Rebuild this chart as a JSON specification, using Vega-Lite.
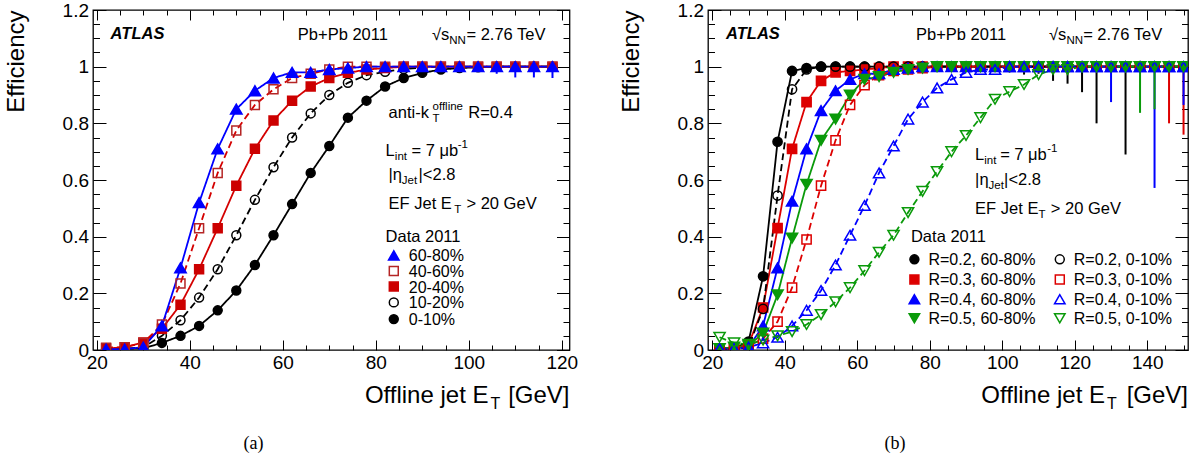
{
"$schema":"https://vega.github.io/schema/vega-lite/v6.json",
"padding":{"left":3,"top":0,"right":0,"bottom":0},
"background":"white",
"config":{"font":"Liberation Sans","view":{"stroke":"black","strokeWidth":1.3},
"axis":{"labelFont":"Liberation Sans","labelFontSize":19,"labelColor":"black","tickColor":"black","tickWidth":1,"domain":false,"grid":false,"titleFont":"Liberation Sans","titleFontSize":24,"titleFontWeight":"normal","titleColor":"black","labelOverlap":false,"labelFlush":false,"labelBound":false}},
"datasets":{
"A":[
{"x":22,"e":0.002,"s":"0-10%"},{"x":26,"e":0.003,"s":"0-10%"},{"x":30,"e":0.006,"s":"0-10%"},{"x":34,"e":0.025,"s":"0-10%"},{"x":38,"e":0.05,"s":"0-10%"},{"x":42,"e":0.085,"s":"0-10%"},{"x":46,"e":0.14,"s":"0-10%"},{"x":50,"e":0.21,"s":"0-10%"},{"x":54,"e":0.3,"s":"0-10%"},{"x":58,"e":0.405,"s":"0-10%"},{"x":62,"e":0.515,"s":"0-10%"},{"x":66,"e":0.625,"s":"0-10%"},{"x":70,"e":0.72,"s":"0-10%"},{"x":74,"e":0.82,"s":"0-10%"},{"x":78,"e":0.88,"s":"0-10%"},{"x":82,"e":0.93,"s":"0-10%"},{"x":86,"e":0.96,"s":"0-10%"},{"x":90,"e":0.978,"s":"0-10%"},{"x":94,"e":0.99,"s":"0-10%"},{"x":98,"e":0.995,"s":"0-10%"},{"x":102,"e":0.998,"s":"0-10%"},{"x":106,"e":1,"s":"0-10%"},{"x":110,"e":1,"s":"0-10%"},{"x":114,"e":1,"s":"0-10%"},{"x":118,"e":1,"s":"0-10%"},
{"x":22,"e":0.004,"s":"10-20%"},{"x":26,"e":0.005,"s":"10-20%"},{"x":30,"e":0.01,"s":"10-20%"},{"x":34,"e":0.05,"s":"10-20%"},{"x":38,"e":0.105,"s":"10-20%"},{"x":42,"e":0.185,"s":"10-20%"},{"x":46,"e":0.285,"s":"10-20%"},{"x":50,"e":0.405,"s":"10-20%"},{"x":54,"e":0.53,"s":"10-20%"},{"x":58,"e":0.645,"s":"10-20%"},{"x":62,"e":0.75,"s":"10-20%"},{"x":66,"e":0.835,"s":"10-20%"},{"x":70,"e":0.9,"s":"10-20%"},{"x":74,"e":0.943,"s":"10-20%"},{"x":78,"e":0.97,"s":"10-20%"},{"x":82,"e":0.982,"s":"10-20%"},{"x":86,"e":0.992,"s":"10-20%"},{"x":90,"e":0.997,"s":"10-20%"},{"x":94,"e":1,"s":"10-20%"},{"x":98,"e":1,"s":"10-20%"},{"x":102,"e":1,"s":"10-20%"},{"x":106,"e":1,"s":"10-20%"},{"x":110,"e":1,"s":"10-20%"},{"x":114,"e":1,"s":"10-20%"},{"x":118,"e":1,"s":"10-20%"},
{"x":22,"e":0.005,"s":"20-40%"},{"x":26,"e":0.01,"s":"20-40%"},{"x":30,"e":0.027,"s":"20-40%"},{"x":34,"e":0.075,"s":"20-40%"},{"x":38,"e":0.16,"s":"20-40%"},{"x":42,"e":0.285,"s":"20-40%"},{"x":46,"e":0.43,"s":"20-40%"},{"x":50,"e":0.58,"s":"20-40%"},{"x":54,"e":0.71,"s":"20-40%"},{"x":58,"e":0.81,"s":"20-40%"},{"x":62,"e":0.88,"s":"20-40%"},{"x":66,"e":0.93,"s":"20-40%"},{"x":70,"e":0.96,"s":"20-40%"},{"x":74,"e":0.978,"s":"20-40%"},{"x":78,"e":0.99,"s":"20-40%"},{"x":82,"e":0.995,"s":"20-40%"},{"x":86,"e":1,"s":"20-40%"},{"x":90,"e":1,"s":"20-40%"},{"x":94,"e":1,"s":"20-40%"},{"x":98,"e":1,"s":"20-40%"},{"x":102,"e":1,"s":"20-40%"},{"x":106,"e":1,"s":"20-40%"},{"x":110,"e":1,"s":"20-40%"},{"x":114,"e":1,"s":"20-40%"},{"x":118,"e":1,"s":"20-40%"},
{"x":22,"e":0.008,"s":"40-60%"},{"x":26,"e":0.01,"s":"40-60%"},{"x":30,"e":0.025,"s":"40-60%"},{"x":34,"e":0.09,"s":"40-60%"},{"x":38,"e":0.235,"s":"40-60%"},{"x":42,"e":0.43,"s":"40-60%"},{"x":46,"e":0.625,"s":"40-60%"},{"x":50,"e":0.775,"s":"40-60%"},{"x":54,"e":0.865,"s":"40-60%"},{"x":58,"e":0.92,"s":"40-60%"},{"x":62,"e":0.96,"s":"40-60%"},{"x":66,"e":0.975,"s":"40-60%"},{"x":70,"e":0.99,"s":"40-60%"},{"x":74,"e":1,"s":"40-60%"},{"x":78,"e":1,"s":"40-60%"},{"x":82,"e":1,"s":"40-60%"},{"x":86,"e":1,"s":"40-60%"},{"x":90,"e":1,"s":"40-60%"},{"x":94,"e":1,"s":"40-60%"},{"x":98,"e":1,"s":"40-60%"},{"x":102,"e":1,"s":"40-60%"},{"x":106,"e":1,"s":"40-60%"},{"x":110,"e":1,"s":"40-60%"},{"x":114,"e":1,"s":"40-60%"},{"x":118,"e":1,"s":"40-60%"},
{"x":22,"e":0.003,"s":"60-80%"},{"x":26,"e":0.003,"s":"60-80%"},{"x":30,"e":0.01,"s":"60-80%"},{"x":34,"e":0.085,"s":"60-80%"},{"x":38,"e":0.29,"s":"60-80%"},{"x":42,"e":0.52,"s":"60-80%"},{"x":46,"e":0.71,"s":"60-80%"},{"x":50,"e":0.85,"s":"60-80%"},{"x":54,"e":0.915,"s":"60-80%"},{"x":58,"e":0.96,"s":"60-80%"},{"x":62,"e":0.98,"s":"60-80%"},{"x":66,"e":0.98,"s":"60-80%"},{"x":70,"e":0.99,"s":"60-80%"},{"x":74,"e":0.995,"s":"60-80%"},{"x":78,"e":1,"s":"60-80%"},{"x":82,"e":1,"s":"60-80%"},{"x":86,"e":1,"s":"60-80%"},{"x":90,"e":1,"s":"60-80%"},{"x":94,"e":1,"s":"60-80%"},{"x":98,"e":1,"s":"60-80%"},{"x":102,"e":1,"s":"60-80%"},{"x":106,"e":1,"s":"60-80%"},{"x":110,"e":1,"s":"60-80%"},{"x":114,"e":1,"s":"60-80%"},{"x":118,"e":1,"s":"60-80%"}
],
"LA":[{"x":83.87,"y":0.334,"s":"60-80%"},{"x":83.87,"y":0.279,"s":"40-60%"},{"x":83.87,"y":0.224,"s":"20-40%"},{"x":83.87,"y":0.168,"s":"10-20%"},{"x":83.87,"y":0.109,"s":"0-10%"}],
"LB":[{"x":75.75,"y":0.32,"s":"R=0.2, 60-80%"},{"x":115.86,"y":0.32,"s":"R=0.2, 0-10%"},{"x":75.75,"y":0.249,"s":"R=0.3, 60-80%"},{"x":115.86,"y":0.249,"s":"R=0.3, 0-10%"},{"x":75.75,"y":0.179,"s":"R=0.4, 60-80%"},{"x":115.86,"y":0.179,"s":"R=0.4, 0-10%"},{"x":75.75,"y":0.112,"s":"R=0.5, 60-80%"},{"x":115.86,"y":0.112,"s":"R=0.5, 0-10%"}],
"B":[
{"x":22,"e":0.005,"s":"R=0.2, 60-80%"},{"x":26,"e":0.005,"s":"R=0.2, 60-80%"},{"x":30,"e":0.03,"s":"R=0.2, 60-80%"},{"x":34,"e":0.26,"s":"R=0.2, 60-80%"},{"x":38,"e":0.735,"s":"R=0.2, 60-80%"},{"x":42,"e":0.985,"s":"R=0.2, 60-80%"},{"x":46,"e":0.995,"s":"R=0.2, 60-80%"},{"x":50,"e":1,"s":"R=0.2, 60-80%"},{"x":54,"e":1,"s":"R=0.2, 60-80%"},{"x":58,"e":1,"s":"R=0.2, 60-80%"},{"x":62,"e":1,"s":"R=0.2, 60-80%"},{"x":66,"e":1,"s":"R=0.2, 60-80%"},{"x":70,"e":1,"s":"R=0.2, 60-80%"},{"x":74,"e":1,"s":"R=0.2, 60-80%"},{"x":78,"e":1,"s":"R=0.2, 60-80%"},{"x":82,"e":1,"s":"R=0.2, 60-80%"},{"x":86,"e":1,"s":"R=0.2, 60-80%"},{"x":90,"e":1,"s":"R=0.2, 60-80%"},{"x":94,"e":1,"s":"R=0.2, 60-80%"},{"x":98,"e":1,"s":"R=0.2, 60-80%"},{"x":102,"e":1,"s":"R=0.2, 60-80%"},{"x":106,"e":1,"s":"R=0.2, 60-80%"},{"x":110,"e":1,"s":"R=0.2, 60-80%"},{"x":114,"e":1,"s":"R=0.2, 60-80%"},{"x":118,"e":1,"s":"R=0.2, 60-80%"},{"x":122,"e":1,"s":"R=0.2, 60-80%"},{"x":126,"e":1,"s":"R=0.2, 60-80%"},{"x":130,"e":1,"s":"R=0.2, 60-80%"},{"x":134,"e":1,"s":"R=0.2, 60-80%"},{"x":138,"e":1,"s":"R=0.2, 60-80%"},{"x":142,"e":1,"s":"R=0.2, 60-80%"},{"x":146,"e":1,"s":"R=0.2, 60-80%"},{"x":150,"e":1,"s":"R=0.2, 60-80%"},
{"x":22,"e":0.005,"s":"R=0.3, 60-80%"},{"x":26,"e":0.005,"s":"R=0.3, 60-80%"},{"x":30,"e":0.02,"s":"R=0.3, 60-80%"},{"x":34,"e":0.15,"s":"R=0.3, 60-80%"},{"x":38,"e":0.43,"s":"R=0.3, 60-80%"},{"x":42,"e":0.71,"s":"R=0.3, 60-80%"},{"x":46,"e":0.875,"s":"R=0.3, 60-80%"},{"x":50,"e":0.95,"s":"R=0.3, 60-80%"},{"x":54,"e":0.98,"s":"R=0.3, 60-80%"},{"x":58,"e":0.985,"s":"R=0.3, 60-80%"},{"x":62,"e":0.99,"s":"R=0.3, 60-80%"},{"x":66,"e":0.995,"s":"R=0.3, 60-80%"},{"x":70,"e":1,"s":"R=0.3, 60-80%"},{"x":74,"e":1,"s":"R=0.3, 60-80%"},{"x":78,"e":1,"s":"R=0.3, 60-80%"},{"x":82,"e":1,"s":"R=0.3, 60-80%"},{"x":86,"e":1,"s":"R=0.3, 60-80%"},{"x":90,"e":1,"s":"R=0.3, 60-80%"},{"x":94,"e":1,"s":"R=0.3, 60-80%"},{"x":98,"e":1,"s":"R=0.3, 60-80%"},{"x":102,"e":1,"s":"R=0.3, 60-80%"},{"x":106,"e":1,"s":"R=0.3, 60-80%"},{"x":110,"e":1,"s":"R=0.3, 60-80%"},{"x":114,"e":1,"s":"R=0.3, 60-80%"},{"x":118,"e":1,"s":"R=0.3, 60-80%"},{"x":122,"e":1,"s":"R=0.3, 60-80%"},{"x":126,"e":1,"s":"R=0.3, 60-80%"},{"x":130,"e":1,"s":"R=0.3, 60-80%"},{"x":134,"e":1,"s":"R=0.3, 60-80%"},{"x":138,"e":1,"s":"R=0.3, 60-80%"},{"x":142,"e":1,"s":"R=0.3, 60-80%"},{"x":146,"e":1,"s":"R=0.3, 60-80%"},{"x":150,"e":1,"s":"R=0.3, 60-80%"},
{"x":22,"e":0.005,"s":"R=0.4, 60-80%"},{"x":26,"e":0.005,"s":"R=0.4, 60-80%"},{"x":30,"e":0.01,"s":"R=0.4, 60-80%"},{"x":34,"e":0.085,"s":"R=0.4, 60-80%"},{"x":38,"e":0.29,"s":"R=0.4, 60-80%"},{"x":42,"e":0.525,"s":"R=0.4, 60-80%"},{"x":46,"e":0.71,"s":"R=0.4, 60-80%"},{"x":50,"e":0.845,"s":"R=0.4, 60-80%"},{"x":54,"e":0.915,"s":"R=0.4, 60-80%"},{"x":58,"e":0.955,"s":"R=0.4, 60-80%"},{"x":62,"e":0.975,"s":"R=0.4, 60-80%"},{"x":66,"e":0.975,"s":"R=0.4, 60-80%"},{"x":70,"e":0.99,"s":"R=0.4, 60-80%"},{"x":74,"e":0.995,"s":"R=0.4, 60-80%"},{"x":78,"e":1,"s":"R=0.4, 60-80%"},{"x":82,"e":1,"s":"R=0.4, 60-80%"},{"x":86,"e":1,"s":"R=0.4, 60-80%"},{"x":90,"e":1,"s":"R=0.4, 60-80%"},{"x":94,"e":1,"s":"R=0.4, 60-80%"},{"x":98,"e":1,"s":"R=0.4, 60-80%"},{"x":102,"e":1,"s":"R=0.4, 60-80%"},{"x":106,"e":1,"s":"R=0.4, 60-80%"},{"x":110,"e":1,"s":"R=0.4, 60-80%"},{"x":114,"e":1,"s":"R=0.4, 60-80%"},{"x":118,"e":1,"s":"R=0.4, 60-80%"},{"x":122,"e":1,"s":"R=0.4, 60-80%"},{"x":126,"e":1,"s":"R=0.4, 60-80%"},{"x":130,"e":1,"s":"R=0.4, 60-80%"},{"x":134,"e":1,"s":"R=0.4, 60-80%"},{"x":138,"e":1,"s":"R=0.4, 60-80%"},{"x":142,"e":1,"s":"R=0.4, 60-80%"},{"x":146,"e":1,"s":"R=0.4, 60-80%"},{"x":150,"e":1,"s":"R=0.4, 60-80%"},
{"x":22,"e":0.005,"s":"R=0.5, 60-80%"},{"x":26,"e":0.01,"s":"R=0.5, 60-80%"},{"x":30,"e":0.015,"s":"R=0.5, 60-80%"},{"x":34,"e":0.06,"s":"R=0.5, 60-80%"},{"x":38,"e":0.195,"s":"R=0.5, 60-80%"},{"x":42,"e":0.395,"s":"R=0.5, 60-80%"},{"x":46,"e":0.585,"s":"R=0.5, 60-80%"},{"x":50,"e":0.74,"s":"R=0.5, 60-80%"},{"x":54,"e":0.815,"s":"R=0.5, 60-80%"},{"x":58,"e":0.9,"s":"R=0.5, 60-80%"},{"x":62,"e":0.955,"s":"R=0.5, 60-80%"},{"x":66,"e":0.965,"s":"R=0.5, 60-80%"},{"x":70,"e":0.98,"s":"R=0.5, 60-80%"},{"x":74,"e":0.99,"s":"R=0.5, 60-80%"},{"x":78,"e":0.995,"s":"R=0.5, 60-80%"},{"x":82,"e":1,"s":"R=0.5, 60-80%"},{"x":86,"e":1,"s":"R=0.5, 60-80%"},{"x":90,"e":1,"s":"R=0.5, 60-80%"},{"x":94,"e":1,"s":"R=0.5, 60-80%"},{"x":98,"e":1,"s":"R=0.5, 60-80%"},{"x":102,"e":1,"s":"R=0.5, 60-80%"},{"x":106,"e":1,"s":"R=0.5, 60-80%"},{"x":110,"e":1,"s":"R=0.5, 60-80%"},{"x":114,"e":1,"s":"R=0.5, 60-80%"},{"x":118,"e":1,"s":"R=0.5, 60-80%"},{"x":122,"e":1,"s":"R=0.5, 60-80%"},{"x":126,"e":1,"s":"R=0.5, 60-80%"},{"x":130,"e":1,"s":"R=0.5, 60-80%"},{"x":134,"e":1,"s":"R=0.5, 60-80%"},{"x":138,"e":1,"s":"R=0.5, 60-80%"},{"x":142,"e":1,"s":"R=0.5, 60-80%"},{"x":146,"e":1,"s":"R=0.5, 60-80%"},{"x":150,"e":1,"s":"R=0.5, 60-80%"},
{"x":22,"e":0.003,"s":"R=0.2, 0-10%"},{"x":26,"e":0.003,"s":"R=0.2, 0-10%"},{"x":30,"e":0.01,"s":"R=0.2, 0-10%"},{"x":34,"e":0.145,"s":"R=0.2, 0-10%"},{"x":38,"e":0.545,"s":"R=0.2, 0-10%"},{"x":42,"e":0.92,"s":"R=0.2, 0-10%"},{"x":46,"e":0.99,"s":"R=0.2, 0-10%"},{"x":50,"e":1,"s":"R=0.2, 0-10%"},{"x":54,"e":1,"s":"R=0.2, 0-10%"},{"x":58,"e":1,"s":"R=0.2, 0-10%"},{"x":62,"e":1,"s":"R=0.2, 0-10%"},{"x":66,"e":1,"s":"R=0.2, 0-10%"},{"x":70,"e":1,"s":"R=0.2, 0-10%"},{"x":74,"e":1,"s":"R=0.2, 0-10%"},{"x":78,"e":1,"s":"R=0.2, 0-10%"},{"x":82,"e":1,"s":"R=0.2, 0-10%"},{"x":86,"e":1,"s":"R=0.2, 0-10%"},{"x":90,"e":1,"s":"R=0.2, 0-10%"},{"x":94,"e":1,"s":"R=0.2, 0-10%"},{"x":98,"e":1,"s":"R=0.2, 0-10%"},{"x":102,"e":1,"s":"R=0.2, 0-10%"},{"x":106,"e":1,"s":"R=0.2, 0-10%"},{"x":110,"e":1,"s":"R=0.2, 0-10%"},{"x":114,"e":1,"s":"R=0.2, 0-10%"},{"x":118,"e":1,"s":"R=0.2, 0-10%"},{"x":122,"e":1,"s":"R=0.2, 0-10%"},{"x":126,"e":1,"s":"R=0.2, 0-10%"},{"x":130,"e":1,"s":"R=0.2, 0-10%"},{"x":134,"e":1,"s":"R=0.2, 0-10%"},{"x":138,"e":1,"s":"R=0.2, 0-10%"},{"x":142,"e":1,"s":"R=0.2, 0-10%"},{"x":146,"e":1,"s":"R=0.2, 0-10%"},{"x":150,"e":1,"s":"R=0.2, 0-10%"},
{"x":22,"e":0.005,"s":"R=0.3, 0-10%"},{"x":26,"e":0.005,"s":"R=0.3, 0-10%"},{"x":30,"e":0.015,"s":"R=0.3, 0-10%"},{"x":34,"e":0.04,"s":"R=0.3, 0-10%"},{"x":38,"e":0.1,"s":"R=0.3, 0-10%"},{"x":42,"e":0.22,"s":"R=0.3, 0-10%"},{"x":46,"e":0.39,"s":"R=0.3, 0-10%"},{"x":50,"e":0.58,"s":"R=0.3, 0-10%"},{"x":54,"e":0.74,"s":"R=0.3, 0-10%"},{"x":58,"e":0.865,"s":"R=0.3, 0-10%"},{"x":62,"e":0.935,"s":"R=0.3, 0-10%"},{"x":66,"e":0.97,"s":"R=0.3, 0-10%"},{"x":70,"e":0.985,"s":"R=0.3, 0-10%"},{"x":74,"e":0.99,"s":"R=0.3, 0-10%"},{"x":78,"e":0.995,"s":"R=0.3, 0-10%"},{"x":82,"e":1,"s":"R=0.3, 0-10%"},{"x":86,"e":1,"s":"R=0.3, 0-10%"},{"x":90,"e":1,"s":"R=0.3, 0-10%"},{"x":94,"e":1,"s":"R=0.3, 0-10%"},{"x":98,"e":1,"s":"R=0.3, 0-10%"},{"x":102,"e":1,"s":"R=0.3, 0-10%"},{"x":106,"e":1,"s":"R=0.3, 0-10%"},{"x":110,"e":1,"s":"R=0.3, 0-10%"},{"x":114,"e":1,"s":"R=0.3, 0-10%"},{"x":118,"e":1,"s":"R=0.3, 0-10%"},{"x":122,"e":1,"s":"R=0.3, 0-10%"},{"x":126,"e":1,"s":"R=0.3, 0-10%"},{"x":130,"e":1,"s":"R=0.3, 0-10%"},{"x":134,"e":1,"s":"R=0.3, 0-10%"},{"x":138,"e":1,"s":"R=0.3, 0-10%"},{"x":142,"e":1,"s":"R=0.3, 0-10%"},{"x":146,"e":1,"s":"R=0.3, 0-10%"},{"x":150,"e":1,"s":"R=0.3, 0-10%"},
{"x":22,"e":0.005,"s":"R=0.4, 0-10%"},{"x":26,"e":0.005,"s":"R=0.4, 0-10%"},{"x":30,"e":0.01,"s":"R=0.4, 0-10%"},{"x":34,"e":0.025,"s":"R=0.4, 0-10%"},{"x":38,"e":0.045,"s":"R=0.4, 0-10%"},{"x":42,"e":0.085,"s":"R=0.4, 0-10%"},{"x":46,"e":0.14,"s":"R=0.4, 0-10%"},{"x":50,"e":0.21,"s":"R=0.4, 0-10%"},{"x":54,"e":0.3,"s":"R=0.4, 0-10%"},{"x":58,"e":0.405,"s":"R=0.4, 0-10%"},{"x":62,"e":0.51,"s":"R=0.4, 0-10%"},{"x":66,"e":0.625,"s":"R=0.4, 0-10%"},{"x":70,"e":0.72,"s":"R=0.4, 0-10%"},{"x":74,"e":0.815,"s":"R=0.4, 0-10%"},{"x":78,"e":0.875,"s":"R=0.4, 0-10%"},{"x":82,"e":0.925,"s":"R=0.4, 0-10%"},{"x":86,"e":0.955,"s":"R=0.4, 0-10%"},{"x":90,"e":0.98,"s":"R=0.4, 0-10%"},{"x":94,"e":0.99,"s":"R=0.4, 0-10%"},{"x":98,"e":0.99,"s":"R=0.4, 0-10%"},{"x":102,"e":1,"s":"R=0.4, 0-10%"},{"x":106,"e":1,"s":"R=0.4, 0-10%"},{"x":110,"e":1,"s":"R=0.4, 0-10%"},{"x":114,"e":1,"s":"R=0.4, 0-10%"},{"x":118,"e":1,"s":"R=0.4, 0-10%"},{"x":122,"e":1,"s":"R=0.4, 0-10%"},{"x":126,"e":1,"s":"R=0.4, 0-10%"},{"x":130,"e":1,"s":"R=0.4, 0-10%"},{"x":134,"e":1,"s":"R=0.4, 0-10%"},{"x":138,"e":1,"s":"R=0.4, 0-10%"},{"x":142,"e":1,"s":"R=0.4, 0-10%"},{"x":146,"e":1,"s":"R=0.4, 0-10%"},{"x":150,"e":1,"s":"R=0.4, 0-10%"},
{"x":22,"e":0.045,"s":"R=0.5, 0-10%"},{"x":26,"e":0.025,"s":"R=0.5, 0-10%"},{"x":30,"e":0.02,"s":"R=0.5, 0-10%"},{"x":34,"e":0.035,"s":"R=0.5, 0-10%"},{"x":38,"e":0.05,"s":"R=0.5, 0-10%"},{"x":42,"e":0.065,"s":"R=0.5, 0-10%"},{"x":46,"e":0.09,"s":"R=0.5, 0-10%"},{"x":50,"e":0.125,"s":"R=0.5, 0-10%"},{"x":54,"e":0.17,"s":"R=0.5, 0-10%"},{"x":58,"e":0.22,"s":"R=0.5, 0-10%"},{"x":62,"e":0.28,"s":"R=0.5, 0-10%"},{"x":66,"e":0.345,"s":"R=0.5, 0-10%"},{"x":70,"e":0.405,"s":"R=0.5, 0-10%"},{"x":74,"e":0.485,"s":"R=0.5, 0-10%"},{"x":78,"e":0.56,"s":"R=0.5, 0-10%"},{"x":82,"e":0.63,"s":"R=0.5, 0-10%"},{"x":86,"e":0.7,"s":"R=0.5, 0-10%"},{"x":90,"e":0.757,"s":"R=0.5, 0-10%"},{"x":94,"e":0.82,"s":"R=0.5, 0-10%"},{"x":98,"e":0.885,"s":"R=0.5, 0-10%"},{"x":102,"e":0.912,"s":"R=0.5, 0-10%"},{"x":106,"e":0.937,"s":"R=0.5, 0-10%"},{"x":110,"e":0.972,"s":"R=0.5, 0-10%"},{"x":114,"e":0.99,"s":"R=0.5, 0-10%"},{"x":118,"e":0.99,"s":"R=0.5, 0-10%"},{"x":122,"e":1,"s":"R=0.5, 0-10%"},{"x":126,"e":1,"s":"R=0.5, 0-10%"},{"x":130,"e":1,"s":"R=0.5, 0-10%"},{"x":134,"e":1,"s":"R=0.5, 0-10%"},{"x":138,"e":1,"s":"R=0.5, 0-10%"},{"x":142,"e":1,"s":"R=0.5, 0-10%"},{"x":146,"e":1,"s":"R=0.5, 0-10%"},{"x":150,"e":1,"s":"R=0.5, 0-10%"}
]
},
"spacing":39,
"resolve":{"scale":{"color":"independent","stroke":"independent","fill":"independent","shape":"independent","strokeDash":"independent"}},
"hconcat":[
{
"width":476.5,"height":340,
"resolve":{"axis":{"x":"independent","y":"independent"}},
"layer":[
{"data":{"values":[{"x":102,"lo":0.985,"hi":1},{"x":106,"lo":0.975,"hi":1},{"x":110,"lo":0.962,"hi":1.003},{"x":114,"lo":0.962,"hi":1.003},{"x":118,"lo":0.96,"hi":1.003}]},
"mark":{"type":"rule","color":"#0000ff","strokeWidth":2},
"encoding":{"x":{"field":"x","type":"quantitative","scale":{"domain":[19.18,121.66],"nice":false,"zero":false},"axis":null},"y":{"field":"lo","type":"quantitative","scale":{"domain":[0,1.2],"nice":false,"zero":false},"axis":null},"y2":{"field":"hi"}}},
{"data":{"name":"A"},"mark":{"type":"line","strokeWidth":1.8,"clip":true},
"encoding":{"x":{"field":"x","type":"quantitative","scale":{"domain":[19.18,121.66],"nice":false,"zero":false},
"axis":{"orient":"bottom","values":[20,25,30,35,40,45,50,55,60,65,70,75,80,85,90,95,100,105,110,115,120],"labelExpr":"datum.value % 20 === 0 ? format(datum.value,'d') : ''","tickSize":{"condition":{"test":"datum.value % 20 === 0","value":-10},"value":-5},"labelPadding":13,"title":null}},
"y":{"field":"e","type":"quantitative","scale":{"domain":[0,1.2],"nice":false,"zero":false},
"axis":{"orient":"left","values":[0,0.05,0.1,0.15,0.2,0.25,0.3,0.35,0.4,0.45,0.5,0.55,0.6,0.65,0.7,0.75,0.8,0.85,0.9,0.95,1,1.05,1.1,1.15,1.2],"labelExpr":"abs(datum.value*5-round(datum.value*5))<0.001 ? format(datum.value,'.1~f') : ''","tickSize":{"condition":{"test":"abs(datum.value*5-round(datum.value*5))<0.001","value":-13},"value":-6.5},"labelPadding":17.5,"title":"Efficiency","titleAnchor":"end","titlePadding":34}},
"color":{"field":"s","type":"nominal","scale":{"domain":["60-80%","40-60%","20-40%","10-20%","0-10%"],"range":["#0000ff","#d40000","#d40000","#000000","#000000"]},"legend":null},
"strokeDash":{"field":"s","type":"nominal","scale":{"domain":["60-80%","40-60%","20-40%","10-20%","0-10%"],"range":[[1,0],[7,4],[1,0],[7,4],[1,0]]},"legend":null}}},
{"data":{"name":"A"},"transform":[{"filter":{"field":"s","oneOf":["40-60%","20-40%","10-20%","0-10%"]}}],
"mark":{"type":"point","size":80,"strokeWidth":1.5,"opacity":1,"clip":true},
"encoding":{"x":{"field":"x","type":"quantitative","scale":{"domain":[19.18,121.66],"nice":false,"zero":false},"axis":null},"y":{"field":"e","type":"quantitative","scale":{"domain":[0,1.2],"nice":false,"zero":false},"axis":null},
"shape":{"field":"s","type":"nominal","scale":{"domain":["60-80%","40-60%","20-40%","10-20%","0-10%"],"range":["triangle-up","square","square","circle","circle"]},"legend":null},
"stroke":{"field":"s","type":"nominal","scale":{"domain":["60-80%","40-60%","20-40%","10-20%","0-10%"],"range":["#0000ff","#b52525","#cc0000","#000000","#000000"]},"legend":null},
"fill":{"field":"s","type":"nominal","scale":{"domain":["60-80%","40-60%","20-40%","10-20%","0-10%"],"range":["#0000ff","transparent","#cc0000","transparent","#000000"]},"legend":null}}},
{"data":{"name":"A"},"transform":[{"filter":{"field":"s","equal":"60-80%"}}],
"mark":{"type":"point","size":130,"strokeWidth":1.5,"opacity":1,"clip":true},
"encoding":{"x":{"field":"x","type":"quantitative","scale":{"domain":[19.18,121.66],"nice":false,"zero":false},"axis":null},"y":{"field":"e","type":"quantitative","scale":{"domain":[0,1.2],"nice":false,"zero":false},"axis":null},
"shape":{"field":"s","type":"nominal","legend":null},"stroke":{"field":"s","type":"nominal","legend":null},"fill":{"field":"s","type":"nominal","legend":null}}},
{"data":{"name":"LA"},"transform":[{"filter":{"field":"s","oneOf":["40-60%","20-40%","10-20%","0-10%"]}}],
"mark":{"type":"point","size":80,"strokeWidth":1.5,"opacity":1},
"encoding":{"x":{"field":"x","type":"quantitative","scale":{"domain":[19.18,121.66],"nice":false,"zero":false},"axis":null},"y":{"field":"y","type":"quantitative","scale":{"domain":[0,1.2],"nice":false,"zero":false},"axis":null},
"shape":{"field":"s","type":"nominal","legend":null},"stroke":{"field":"s","type":"nominal","legend":null},"fill":{"field":"s","type":"nominal","legend":null}}},
{"data":{"name":"LA"},"transform":[{"filter":{"field":"s","equal":"60-80%"}}],
"mark":{"type":"point","size":110,"strokeWidth":1.5,"opacity":1},
"encoding":{"x":{"field":"x","type":"quantitative","scale":{"domain":[19.18,121.66],"nice":false,"zero":false},"axis":null},"y":{"field":"y","type":"quantitative","scale":{"domain":[0,1.2],"nice":false,"zero":false},"axis":null},
"shape":{"field":"s","type":"nominal","legend":null},"stroke":{"field":"s","type":"nominal","legend":null},"fill":{"field":"s","type":"nominal","legend":null}}},
{"data":{"name":"LA"},
"mark":{"type":"text","align":"left","baseline":"middle","fontSize":16,"dx":15,"dy":1,"color":"black"},
"encoding":{"x":{"field":"x","type":"quantitative","scale":{"domain":[19.18,121.66],"nice":false,"zero":false},"axis":null},"y":{"field":"y","type":"quantitative","scale":{"domain":[0,1.2],"nice":false,"zero":false},"axis":null},"text":{"field":"s"}}},
{"data":{"name":"A"},"mark":{"type":"point","opacity":0},
"encoding":{"x":{"field":"x","type":"quantitative","scale":{"domain":[19.18,121.66],"nice":false,"zero":false},
"axis":{"orient":"top","values":[20,25,30,35,40,45,50,55,60,65,70,75,80,85,90,95,100,105,110,115,120],"labels":false,"tickSize":{"condition":{"test":"datum.value % 20 === 0","value":-10},"value":-5},"title":null}},
"y":{"field":"e","type":"quantitative","scale":{"domain":[0,1.2],"nice":false,"zero":false},
"axis":{"orient":"right","values":[0,0.05,0.1,0.15,0.2,0.25,0.3,0.35,0.4,0.45,0.5,0.55,0.6,0.65,0.7,0.75,0.8,0.85,0.9,0.95,1,1.05,1.1,1.15,1.2],"labels":false,"tickSize":{"condition":{"test":"abs(datum.value*5-round(datum.value*5))<0.001","value":-13},"value":-6.5},"title":null}}}},
{"data":{"values":[{"x":104.24,"y":-0.187,"t":"Offline jet E"},{"x":121.66,"y":-0.187,"t":"[GeV]"}]},
"mark":{"type":"text","align":"right","baseline":"alphabetic","fontSize":24,"color":"black"},
"encoding":{"x":{"field":"x","type":"quantitative","scale":{"domain":[19.18,121.66],"nice":false,"zero":false},"axis":null},"y":{"field":"y","type":"quantitative","scale":{"domain":[0,1.2],"nice":false,"zero":false},"axis":null},"text":{"field":"t"}}},
{"data":{"values":[{"x":104.67,"y":-0.187,"t":"T"}]},
"mark":{"type":"text","align":"left","baseline":"alphabetic","fontSize":16,"dy":6,"color":"black"},
"encoding":{"x":{"field":"x","type":"quantitative","scale":{"domain":[19.18,121.66],"nice":false,"zero":false},"axis":null},"y":{"field":"y","type":"quantitative","scale":{"domain":[0,1.2],"nice":false,"zero":false},"axis":null},"text":{"field":"t"}}},
{"data":{"values":[{"x":63.23,"y":1.093,"t":"Pb+Pb 2011"},{"x":92.1,"y":1.093,"t":"√s"},{"x":99.5,"y":1.093,"t":"= 2.76 TeV"},{"x":82.75,"y":0.818,"t":"anti-k"},{"x":99.9,"y":0.818,"t":"R=0.4"},{"x":82.1,"y":0.684,"t":"L"},{"x":87.7,"y":0.684,"t":"= 7 μb"},{"x":82.75,"y":0.6,"t":"|η"},{"x":89.2,"y":0.6,"t":"|<2.8"},{"x":82.75,"y":0.499,"t":"EF Jet E"},{"x":99.5,"y":0.499,"t":"> 20 GeV"},{"x":82.1,"y":0.381,"t":"Data 2011"}]},
"mark":{"type":"text","align":"left","baseline":"alphabetic","fontSize":16.5,"color":"black"},
"encoding":{"x":{"field":"x","type":"quantitative","scale":{"domain":[19.18,121.66],"nice":false,"zero":false},"axis":null},"y":{"field":"y","type":"quantitative","scale":{"domain":[0,1.2],"nice":false,"zero":false},"axis":null},"text":{"field":"t"}}},
{"data":{"values":[{"x":95.8,"y":1.093,"t":"NN"},{"x":92.2,"y":0.818,"t":"T"},{"x":84.1,"y":0.684,"t":"int"},{"x":85.6,"y":0.6,"t":"Jet"},{"x":96.9,"y":0.499,"t":"T"}]},
"mark":{"type":"text","align":"left","baseline":"alphabetic","fontSize":11.5,"dy":4,"color":"black"},
"encoding":{"x":{"field":"x","type":"quantitative","scale":{"domain":[19.18,121.66],"nice":false,"zero":false},"axis":null},"y":{"field":"y","type":"quantitative","scale":{"domain":[0,1.2],"nice":false,"zero":false},"axis":null},"text":{"field":"t"}}},
{"data":{"values":[{"x":92.2,"y":0.818,"t":"offline"},{"x":97.6,"y":0.684,"t":"-1"}]},
"mark":{"type":"text","align":"left","baseline":"alphabetic","fontSize":11.5,"dy":-8,"color":"black"},
"encoding":{"x":{"field":"x","type":"quantitative","scale":{"domain":[19.18,121.66],"nice":false,"zero":false},"axis":null},"y":{"field":"y","type":"quantitative","scale":{"domain":[0,1.2],"nice":false,"zero":false},"axis":null},"text":{"field":"t"}}},
{"data":{"values":[{"x":22.97,"y":1.096,"t":"ATLAS"}]},
"mark":{"type":"text","align":"left","baseline":"alphabetic","fontSize":16.5,"fontWeight":"bold","fontStyle":"italic","color":"black"},
"encoding":{"x":{"field":"x","type":"quantitative","scale":{"domain":[19.18,121.66],"nice":false,"zero":false},"axis":null},"y":{"field":"y","type":"quantitative","scale":{"domain":[0,1.2],"nice":false,"zero":false},"axis":null},"text":{"field":"t"}}},
{"data":{"values":[{"x":53.7,"y":-0.349,"t":"(a)"}]},
"mark":{"type":"text","align":"center","baseline":"alphabetic","fontSize":18,"font":"Liberation Serif","color":"black"},
"encoding":{"x":{"field":"x","type":"quantitative","scale":{"domain":[19.18,121.66],"nice":false,"zero":false},"axis":null},"y":{"field":"y","type":"quantitative","scale":{"domain":[0,1.2],"nice":false,"zero":false},"axis":null},"text":{"field":"t"}}}
]
},
{
"width":480,"height":340,
"resolve":{"axis":{"x":"independent","y":"independent"}},
"layer":[
{"data":{"values":[{"x":98,"lo":0.99,"hi":1,"s":"R=0.2, 60-80%"},{"x":102,"lo":0.98,"hi":1,"s":"R=0.2, 60-80%"},{"x":106,"lo":0.972,"hi":1,"s":"R=0.2, 60-80%"},{"x":110,"lo":0.975,"hi":1,"s":"R=0.2, 60-80%"},{"x":114,"lo":0.95,"hi":1,"s":"R=0.2, 60-80%"},{"x":118,"lo":0.94,"hi":1,"s":"R=0.2, 60-80%"},{"x":122,"lo":0.91,"hi":1,"s":"R=0.2, 60-80%"},{"x":126,"lo":0.8,"hi":1,"s":"R=0.2, 60-80%"},{"x":130,"lo":0.875,"hi":1,"s":"R=0.4, 60-80%"},{"x":134,"lo":0.69,"hi":1,"s":"R=0.2, 60-80%"},{"x":138,"lo":0.837,"hi":1,"s":"R=0.5, 60-80%"},{"x":142,"lo":0.572,"hi":1,"s":"R=0.4, 60-80%"},{"x":142,"lo":0.85,"hi":1,"s":"R=0.5, 60-80%"},{"x":146,"lo":0.8,"hi":1,"s":"R=0.3, 60-80%"},{"x":150,"lo":0.76,"hi":1,"s":"R=0.3, 60-80%"},{"x":150,"lo":0.865,"hi":1,"s":"R=0.4, 60-80%"}]},
"mark":{"type":"rule","strokeWidth":2},
"encoding":{"x":{"field":"x","type":"quantitative","scale":{"domain":[18.81,151.23],"nice":false,"zero":false},"axis":null},"y":{"field":"lo","type":"quantitative","scale":{"domain":[0,1.2],"nice":false,"zero":false},"axis":null},"y2":{"field":"hi"},
"color":{"field":"s","type":"nominal","scale":{"domain":["R=0.2, 60-80%","R=0.2, 0-10%","R=0.3, 60-80%","R=0.3, 0-10%","R=0.4, 60-80%","R=0.4, 0-10%","R=0.5, 60-80%","R=0.5, 0-10%"],"range":["#000000","#000000","#dd0000","#dd0000","#0000ff","#0000ff","#0a9a0a","#0a9a0a"]},"legend":null}}},
{"data":{"name":"B"},"mark":{"type":"line","strokeWidth":1.8,"clip":true},
"encoding":{"x":{"field":"x","type":"quantitative","scale":{"domain":[18.81,151.23],"nice":false,"zero":false},
"axis":{"orient":"bottom","values":[20,25,30,35,40,45,50,55,60,65,70,75,80,85,90,95,100,105,110,115,120,125,130,135,140,145,150],"labelExpr":"datum.value % 20 === 0 ? format(datum.value,'d') : ''","tickSize":{"condition":{"test":"datum.value % 20 === 0","value":-10},"value":-5},"labelPadding":13,"title":null}},
"y":{"field":"e","type":"quantitative","scale":{"domain":[0,1.2],"nice":false,"zero":false},
"axis":{"orient":"left","values":[0,0.05,0.1,0.15,0.2,0.25,0.3,0.35,0.4,0.45,0.5,0.55,0.6,0.65,0.7,0.75,0.8,0.85,0.9,0.95,1,1.05,1.1,1.15,1.2],"labelExpr":"abs(datum.value*5-round(datum.value*5))<0.001 ? format(datum.value,'.1~f') : ''","tickSize":{"condition":{"test":"abs(datum.value*5-round(datum.value*5))<0.001","value":-13},"value":-6.5},"labelPadding":17.5,"title":"Efficiency","titleAnchor":"end","titlePadding":34}},
"color":{"field":"s","type":"nominal","legend":null},
"strokeDash":{"field":"s","type":"nominal","scale":{"domain":["R=0.2, 60-80%","R=0.2, 0-10%","R=0.3, 60-80%","R=0.3, 0-10%","R=0.4, 60-80%","R=0.4, 0-10%","R=0.5, 60-80%","R=0.5, 0-10%"],"range":[[1,0],[7,4],[1,0],[7,4],[1,0],[7,4],[1,0],[7,4]]},"legend":null}}},
{"data":{"name":"B"},"transform":[{"filter":{"field":"s","oneOf":["R=0.2, 60-80%","R=0.2, 0-10%","R=0.3, 60-80%","R=0.3, 0-10%"]}}],
"mark":{"type":"point","size":85,"strokeWidth":1.5,"opacity":1,"clip":true},
"encoding":{"x":{"field":"x","type":"quantitative","scale":{"domain":[18.81,151.23],"nice":false,"zero":false},"axis":null},"y":{"field":"e","type":"quantitative","scale":{"domain":[0,1.2],"nice":false,"zero":false},"axis":null},
"shape":{"field":"s","type":"nominal","scale":{"domain":["R=0.2, 60-80%","R=0.2, 0-10%","R=0.3, 60-80%","R=0.3, 0-10%","R=0.4, 60-80%","R=0.4, 0-10%","R=0.5, 60-80%","R=0.5, 0-10%"],"range":["circle","circle","square","square","triangle-up","triangle-up","triangle-down","triangle-down"]},"legend":null},
"stroke":{"field":"s","type":"nominal","scale":{"domain":["R=0.2, 60-80%","R=0.2, 0-10%","R=0.3, 60-80%","R=0.3, 0-10%","R=0.4, 60-80%","R=0.4, 0-10%","R=0.5, 60-80%","R=0.5, 0-10%"],"range":["#000000","#000000","#dd0000","#dd0000","#0000ff","#0000ff","#0a9a0a","#0a9a0a"]},"legend":null},
"fill":{"field":"s","type":"nominal","scale":{"domain":["R=0.2, 60-80%","R=0.2, 0-10%","R=0.3, 60-80%","R=0.3, 0-10%","R=0.4, 60-80%","R=0.4, 0-10%","R=0.5, 60-80%","R=0.5, 0-10%"],"range":["#000000","transparent","#dd0000","transparent","#0000ff","transparent","#0a9a0a","transparent"]},"legend":null}}},
{"data":{"name":"B"},"transform":[{"filter":{"field":"s","oneOf":["R=0.4, 60-80%","R=0.4, 0-10%","R=0.5, 60-80%","R=0.5, 0-10%"]}}],
"mark":{"type":"point","size":125,"strokeWidth":1.5,"opacity":1,"clip":true},
"encoding":{"x":{"field":"x","type":"quantitative","scale":{"domain":[18.81,151.23],"nice":false,"zero":false},"axis":null},"y":{"field":"e","type":"quantitative","scale":{"domain":[0,1.2],"nice":false,"zero":false},"axis":null},
"shape":{"field":"s","type":"nominal","legend":null},"stroke":{"field":"s","type":"nominal","legend":null},"fill":{"field":"s","type":"nominal","legend":null}}},
{"data":{"name":"LB"},"transform":[{"filter":{"field":"s","oneOf":["R=0.2, 60-80%","R=0.2, 0-10%","R=0.3, 60-80%","R=0.3, 0-10%"]}}],
"mark":{"type":"point","size":80,"strokeWidth":1.5,"opacity":1},
"encoding":{"x":{"field":"x","type":"quantitative","scale":{"domain":[18.81,151.23],"nice":false,"zero":false},"axis":null},"y":{"field":"y","type":"quantitative","scale":{"domain":[0,1.2],"nice":false,"zero":false},"axis":null},
"shape":{"field":"s","type":"nominal","legend":null},"stroke":{"field":"s","type":"nominal","legend":null},"fill":{"field":"s","type":"nominal","legend":null}}},
{"data":{"name":"LB"},"transform":[{"filter":{"field":"s","oneOf":["R=0.4, 60-80%","R=0.4, 0-10%","R=0.5, 60-80%","R=0.5, 0-10%"]}}],
"mark":{"type":"point","size":110,"strokeWidth":1.5,"opacity":1},
"encoding":{"x":{"field":"x","type":"quantitative","scale":{"domain":[18.81,151.23],"nice":false,"zero":false},"axis":null},"y":{"field":"y","type":"quantitative","scale":{"domain":[0,1.2],"nice":false,"zero":false},"axis":null},
"shape":{"field":"s","type":"nominal","legend":null},"stroke":{"field":"s","type":"nominal","legend":null},"fill":{"field":"s","type":"nominal","legend":null}}},
{"data":{"name":"LB"},
"mark":{"type":"text","align":"left","baseline":"middle","fontSize":16,"dx":14,"dy":1,"color":"black"},
"encoding":{"x":{"field":"x","type":"quantitative","scale":{"domain":[18.81,151.23],"nice":false,"zero":false},"axis":null},"y":{"field":"y","type":"quantitative","scale":{"domain":[0,1.2],"nice":false,"zero":false},"axis":null},"text":{"field":"s"}}},
{"data":{"name":"B"},"mark":{"type":"point","opacity":0},
"encoding":{"x":{"field":"x","type":"quantitative","scale":{"domain":[18.81,151.23],"nice":false,"zero":false},
"axis":{"orient":"top","values":[20,25,30,35,40,45,50,55,60,65,70,75,80,85,90,95,100,105,110,115,120,125,130,135,140,145,150],"labels":false,"tickSize":{"condition":{"test":"datum.value % 20 === 0","value":-10},"value":-5},"title":null}},
"y":{"field":"e","type":"quantitative","scale":{"domain":[0,1.2],"nice":false,"zero":false},
"axis":{"orient":"right","values":[0,0.05,0.1,0.15,0.2,0.25,0.3,0.35,0.4,0.45,0.5,0.55,0.6,0.65,0.7,0.75,0.8,0.85,0.9,0.95,1,1.05,1.1,1.15,1.2],"labels":false,"tickSize":{"condition":{"test":"abs(datum.value*5-round(datum.value*5))<0.001","value":-13},"value":-6.5},"title":null}}}},
{"data":{"values":[{"x":128.33,"y":-0.187,"t":"Offline jet E"},{"x":151.23,"y":-0.187,"t":"[GeV]"}]},
"mark":{"type":"text","align":"right","baseline":"alphabetic","fontSize":24,"color":"black"},
"encoding":{"x":{"field":"x","type":"quantitative","scale":{"domain":[18.81,151.23],"nice":false,"zero":false},"axis":null},"y":{"field":"y","type":"quantitative","scale":{"domain":[0,1.2],"nice":false,"zero":false},"axis":null},"text":{"field":"t"}}},
{"data":{"values":[{"x":128.9,"y":-0.187,"t":"T"}]},
"mark":{"type":"text","align":"left","baseline":"alphabetic","fontSize":16,"dy":6,"color":"black"},
"encoding":{"x":{"field":"x","type":"quantitative","scale":{"domain":[18.81,151.23],"nice":false,"zero":false},"axis":null},"y":{"field":"y","type":"quantitative","scale":{"domain":[0,1.2],"nice":false,"zero":false},"axis":null},"text":{"field":"t"}}},
{"data":{"values":[{"x":76.2,"y":1.093,"t":"Pb+Pb 2011"},{"x":112.9,"y":1.093,"t":"√s"},{"x":122.3,"y":1.093,"t":"= 2.76 TeV"},{"x":92.5,"y":0.671,"t":"L"},{"x":99.4,"y":0.671,"t":"= 7 μb"},{"x":92.5,"y":0.581,"t":"|η"},{"x":100.5,"y":0.581,"t":"|<2.8"},{"x":92.5,"y":0.481,"t":"EF Jet E"},{"x":113.4,"y":0.481,"t":"> 20 GeV"},{"x":74.8,"y":0.381,"t":"Data 2011"}]},
"mark":{"type":"text","align":"left","baseline":"alphabetic","fontSize":16.5,"color":"black"},
"encoding":{"x":{"field":"x","type":"quantitative","scale":{"domain":[18.81,151.23],"nice":false,"zero":false},"axis":null},"y":{"field":"y","type":"quantitative","scale":{"domain":[0,1.2],"nice":false,"zero":false},"axis":null},"text":{"field":"t"}}},
{"data":{"values":[{"x":117.7,"y":1.093,"t":"NN"},{"x":95.0,"y":0.671,"t":"int"},{"x":96.2,"y":0.581,"t":"Jet"},{"x":110.0,"y":0.481,"t":"T"}]},
"mark":{"type":"text","align":"left","baseline":"alphabetic","fontSize":11.5,"dy":4,"color":"black"},
"encoding":{"x":{"field":"x","type":"quantitative","scale":{"domain":[18.81,151.23],"nice":false,"zero":false},"axis":null},"y":{"field":"y","type":"quantitative","scale":{"domain":[0,1.2],"nice":false,"zero":false},"axis":null},"text":{"field":"t"}}},
{"data":{"values":[{"x":112.4,"y":0.671,"t":"-1"}]},
"mark":{"type":"text","align":"left","baseline":"alphabetic","fontSize":11.5,"dy":-8,"color":"black"},
"encoding":{"x":{"field":"x","type":"quantitative","scale":{"domain":[18.81,151.23],"nice":false,"zero":false},"axis":null},"y":{"field":"y","type":"quantitative","scale":{"domain":[0,1.2],"nice":false,"zero":false},"axis":null},"text":{"field":"t"}}},
{"data":{"values":[{"x":23.8,"y":1.096,"t":"ATLAS"}]},
"mark":{"type":"text","align":"left","baseline":"alphabetic","fontSize":16.5,"fontWeight":"bold","fontStyle":"italic","color":"black"},
"encoding":{"x":{"field":"x","type":"quantitative","scale":{"domain":[18.81,151.23],"nice":false,"zero":false},"axis":null},"y":{"field":"y","type":"quantitative","scale":{"domain":[0,1.2],"nice":false,"zero":false},"axis":null},"text":{"field":"t"}}},
{"data":{"values":[{"x":70.4,"y":-0.349,"t":"(b)"}]},
"mark":{"type":"text","align":"center","baseline":"alphabetic","fontSize":18,"font":"Liberation Serif","color":"black"},
"encoding":{"x":{"field":"x","type":"quantitative","scale":{"domain":[18.81,151.23],"nice":false,"zero":false},"axis":null},"y":{"field":"y","type":"quantitative","scale":{"domain":[0,1.2],"nice":false,"zero":false},"axis":null},"text":{"field":"t"}}}
]
}
]
}
